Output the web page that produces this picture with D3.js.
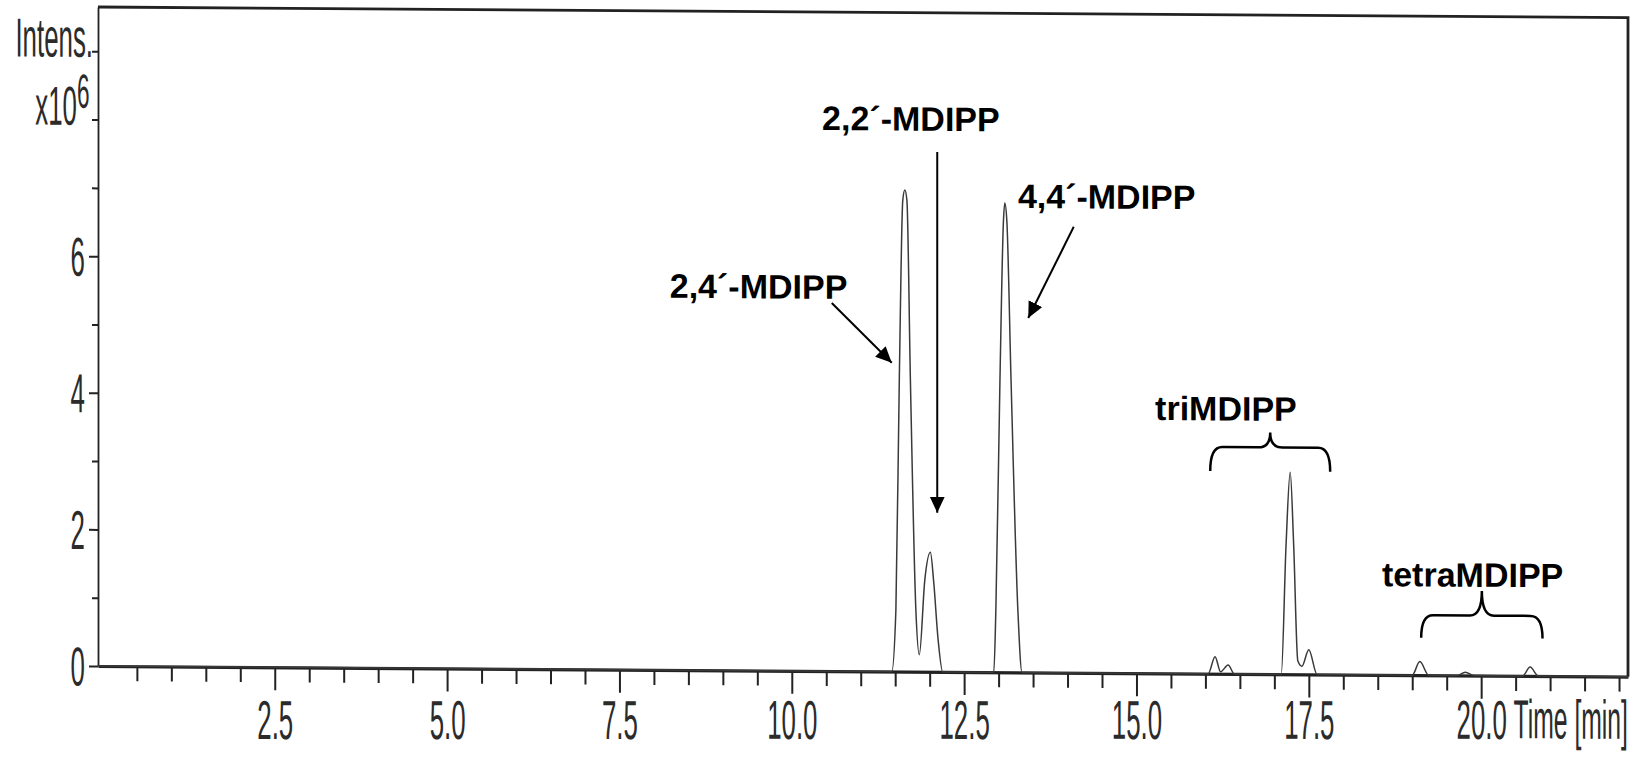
<!DOCTYPE html>
<html>
<head>
<meta charset="utf-8">
<script src="https://cdn.jsdelivr.net/npm/d3@7"></script>
<style>
  body { margin: 0; background: #fff; }
  svg { display: block; }
</style>
</head>
<body>
<svg id="chart" width="1639" height="759"></svg>
<script>
// trace: time in min, intensity in 10^6
const retentionTime = [
  -0.06, 11.45, 11.51, 11.56, 11.61, 11.64, 11.67, 11.72, 11.80, 11.85,
  11.93, 12.01, 12.06, 12.12, 12.19,
  12.93, 12.96, 13.02, 13.07, 13.09, 13.12, 13.18, 13.28, 13.34,
  16.04, 16.14, 16.22, 16.33, 16.42,
  17.10, 17.17, 17.23, 17.28, 17.34, 17.40, 17.50, 17.62,
  19.00, 19.11, 19.24, 19.65, 19.77, 19.90, 20.60, 20.71, 20.83, 22.13
]
const intensity = [
  0, 0, 0.9, 4.3, 6.9, 7.05, 6.9, 4.3, 0.9, 0.25,
  1.35, 1.75, 1.3, 0.5, 0,
  0, 0.9, 4.3, 6.6, 6.87, 6.6, 4.3, 0.9, 0,
  0, 0.25, 0.03, 0.13, 0,
  0, 1.9, 2.96, 1.9, 0.2, 0.12, 0.36, 0,
  0, 0.2, 0, 0, 0.05, 0, 0, 0.13, 0, 0
]

const xMinorTicks = d3.range(0.5, 22.01, 0.5)
const xLabelTicks = [2.5, 5.0, 7.5, 10.0, 12.5, 15.0, 17.5, 20.0]
const yTicks = [0, 1, 2, 3, 4, 5, 6, 7, 8, 9]
const yLabelTicks = [0, 2, 4, 6]

// annotations, in data units (time, intensity)
const annLabels = ['2,4´-MDIPP', '2,2´-MDIPP', '4,4´-MDIPP', 'triMDIPP', 'tetraMDIPP']
const annTextPos = [[8.23, 5.45], [10.44, 7.92], [13.28, 6.80], [15.27, 3.71], [18.56, 1.30]]
const annArrows = [[10.58, 5.39, 11.45, 4.52], [12.11, 7.61, 12.11, 2.33], [14.09, 6.53, 13.43, 5.19]]
// [from, to, tip, arm, end]
const annBraces = [[16.07, 17.81, 3.54, 3.32, 2.97], [19.13, 20.89, 1.24, 0.88, 0.55]]

const svg = d3.select('#chart')
const plotLeft = 98, plotRight = 1628, plotTop = 7, plotBase = 666
const axisFont = "'Liberation Sans', Arial, sans-serif"
const squeeze = 'scale(0.47,1)'
const tilt = 0.4
const tiltDy = px => (px - plotLeft) * Math.tan(tilt * Math.PI / 180)

const x = d3.scaleLinear().domain([-0.064, 22.13]).range([plotLeft, plotRight])
const y = d3.scaleLinear().domain([0, (plotBase - plotTop) / 68.3]).range([plotBase, plotTop])

// the scan is slightly tilted
const g = svg.append('g')
  .attr('transform', `translate(${plotLeft},0) skewY(${tilt}) translate(${-plotLeft},0)`)

// frame top and right
g.append('path')
  .attr('d', `M${plotLeft},${plotTop}H${plotRight}V${plotBase}`)
  .attr('fill', 'none')
  .attr('stroke', '#222')
  .attr('stroke-width', 2.8)

// y axis
const yAxis = g.append('g')
  .attr('transform', `translate(${plotLeft},0)`)
  .call(d3.axisLeft(y).tickValues(yTicks).tickSize(6).tickSizeOuter(0)
    .tickFormat(d => yLabelTicks.includes(d) ? d : ''))
yAxis.select('.domain').attr('stroke', '#222').attr('stroke-width', 1.8)
yAxis.selectAll('.tick line').attr('stroke', '#222').attr('stroke-width', 2)
  .attr('x2', d => yLabelTicks.includes(d) ? -9 : -6)
yAxis.selectAll('.tick text')
  .attr('x', 0).attr('dy', '0.35em')
  .attr('transform', 'translate(-13,0) ' + squeeze)
  .attr('font-family', axisFont).attr('font-size', 55).attr('fill', '#2b2b2b')

g.append('text')
  .attr('transform', 'translate(93,57) ' + squeeze)
  .attr('text-anchor', 'end')
  .attr('font-family', axisFont).attr('font-size', 55).attr('fill', '#2b2b2b')
  .text('Intens.')
g.append('text')
  .attr('transform', 'translate(77,125) ' + squeeze)
  .attr('text-anchor', 'end')
  .attr('font-family', axisFont).attr('font-size', 55).attr('fill', '#2b2b2b')
  .text('x10')
g.append('text')
  .attr('transform', 'translate(77,108) ' + squeeze)
  .attr('font-family', axisFont).attr('font-size', 48).attr('fill', '#2b2b2b')
  .text('6')

// x axis
const xAxis = g.append('g')
  .attr('transform', `translate(0,${plotBase})`)
  .call(d3.axisBottom(x).tickValues(xMinorTicks).tickSize(15).tickSizeOuter(0)
    .tickFormat(d => xLabelTicks.includes(d) ? d.toFixed(1) : ''))
xAxis.select('.domain').attr('stroke', '#222').attr('stroke-width', 3.2)
xAxis.selectAll('.tick line').attr('stroke', '#222').attr('stroke-width', 2)
  .attr('y2', d => xLabelTicks.includes(d) ? 23 : 15)
// labels in the scan stay level while the axis tilts
xAxis.selectAll('.tick text')
  .attr('y', 34).attr('dy', '0.71em')
  .attr('transform', d => `translate(0,${-tiltDy(x(d))}) ` + squeeze)
  .attr('font-family', axisFont).attr('font-size', 55).attr('fill', '#2b2b2b')

g.append('text')
  .attr('transform', `translate(${plotRight},${plotBase + 73 - tiltDy(plotRight)}) scale(0.45,1)`)
  .attr('text-anchor', 'end')
  .attr('font-family', axisFont).attr('font-size', 55).attr('fill', '#2b2b2b')
  .text('Time [min]')

// chromatogram trace
const line = d3.line()
  .x((d, i) => x(retentionTime[i]))
  .y(d => y(d))
  .curve(d3.curveMonotoneX)
g.append('path')
  .datum(intensity)
  .attr('d', line)
  .attr('fill', 'none')
  .attr('stroke', '#3a3a3a')
  .attr('stroke-width', 1.5)
  .attr('stroke-linejoin', 'round')

// annotations
svg.append('defs').append('marker')
  .attr('id', 'head')
  .attr('markerUnits', 'userSpaceOnUse')
  .attr('markerWidth', 18).attr('markerHeight', 16)
  .attr('refX', 16).attr('refY', 7.5)
  .attr('orient', 'auto')
  .append('path')
  .attr('d', 'M0,0L16,7.5L0,15Z')
  .attr('fill', '#000')

g.selectAll('.ann-label')
  .data(annLabels)
  .enter()
  .append('text')
  .attr('class', 'ann-label')
  .attr('x', (d, i) => x(annTextPos[i][0]))
  .attr('y', (d, i) => y(annTextPos[i][1]))
  .attr('font-family', axisFont)
  .attr('font-weight', 'bold')
  .attr('font-size', 34)
  .attr('fill', '#000')
  .text(d => d)

g.selectAll('.ann-arrow')
  .data(annArrows)
  .enter()
  .append('line')
  .attr('class', 'ann-arrow')
  .attr('x1', d => x(d[0])).attr('y1', d => y(d[1]))
  .attr('x2', d => x(d[2])).attr('y2', d => y(d[3]))
  .attr('stroke', '#000')
  .attr('stroke-width', 2)
  .attr('marker-end', 'url(#head)')

g.selectAll('.ann-brace')
  .data(annBraces)
  .enter()
  .append('path')
  .attr('class', 'ann-brace')
  .attr('d', d => {
    const xl = x(d[0]), xr = x(d[1]), xm = (xl + xr) / 2
    const yt = y(d[2]), ya = y(d[3]), ye = y(d[4])
    const r = 12
    return `M${xl},${ye}Q${xl},${ya} ${xl + r},${ya}L${xm - r},${ya}Q${xm},${ya} ${xm},${yt}` +
      `Q${xm},${ya} ${xm + r},${ya}L${xr - r},${ya}Q${xr},${ya} ${xr},${ye}`
  })
  .attr('fill', 'none')
  .attr('stroke', '#000')
  .attr('stroke-width', 2.5)
</script>
</body>
</html>
